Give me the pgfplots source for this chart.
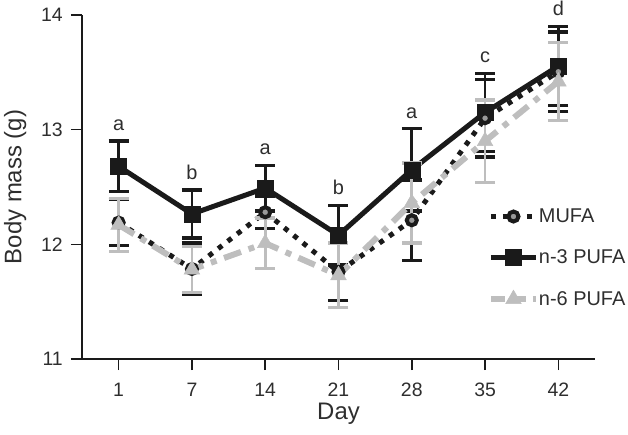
\documentclass[border=0pt]{standalone}
\usepackage{fontspec}
\setmainfont{Liberation Sans}
\usepackage{pgfplots}
\usepackage{pgfplotstable}
\pgfplotsset{compat=1.18}
\definecolor{dk}{HTML}{1A1A1A}
\definecolor{lg}{HTML}{BEBEBE}
\definecolor{txt}{HTML}{2E2E2E}

\pgfplotstableread{
x y e
0 12.19 0.20
1 11.785 0.225
2 12.28 0.14
3 11.76 0.25
4 12.21 0.35
5 13.10 0.34
6 13.505 0.345
}\mufa
\pgfplotstableread{
x y e
0 12.68 0.22
1 12.265 0.21
2 12.49 0.20
3 12.08 0.26
4 12.65 0.36
5 13.15 0.34
6 13.555 0.345
}\nthree
\pgfplotstableread{
x y e
0 12.17 0.23
1 11.78 0.20
2 12.01 0.22
3 11.73 0.28
4 12.36 0.35
5 12.90 0.36
6 13.42 0.34
}\nsix

\begin{document}
\begin{tikzpicture}
\begin{axis}[
  scale only axis, width=513bp, height=344bp,
  xmin=-0.5, xmax=6.5, ymin=11, ymax=14,
  axis lines*=left,
  axis line style={line width=2bp, color=dk},
  clip=false,
  xtick={0,1,2,3,4,5,6},
  xticklabels={1,7,14,21,28,35,42},
  ytick={11,12,13,14},
  tick align=outside,
  major tick length=11bp,
  tick style={line width=1.6bp, color=dk},
  /pgf/number format/assume math mode=true,
  xticklabel style={font=\fontsize{19.5}{19.5}\selectfont, text=txt, inner sep=0pt, anchor=north, yshift=-13bp},
  yticklabel style={font=\fontsize{19.5}{19.5}\selectfont, text=txt, inner sep=0pt, anchor=east, xshift=-8bp},
  xlabel={Day},
  xlabel style={at={(axis description cs:0.5,-0.128)}, anchor=north, inner sep=0pt, font=\fontsize{24}{24}\selectfont, text=txt},
  ylabel={Body mass (g)},
  ylabel style={at={(axis description cs:-0.108,0.5)}, anchor=south, rotate=0, inner sep=0pt, font=\fontsize{24}{24}\selectfont, text=txt},
  legend image code/.code={\draw[mark repeat=2,mark phase=2,#1] plot coordinates {(0bp,0bp) (22.5bp,0bp) (45bp,0bp)};},
  legend style={at={(axis description cs:0.791,0.294)}, anchor=west, draw=none, fill=none,
    font=\fontsize{20}{20}\selectfont, text=txt, row sep=25bp, inner sep=0pt,
    nodes={inner sep=0pt}},
  legend cell align=left,
  /tikz/every even column/.append style={column sep=10bp},
]
\addlegendimage{dk, line width=5bp, dash pattern=on 5bp off 7bp, mark=*, mark size=5bp, mark options={solid, line width=4bp, fill=black!40, draw=dk}}
\addlegendentry{MUFA}
\addlegendimage{dk, line width=5bp, mark=square*, mark size=8bp, mark options={solid, line width=0.5bp}}
\addlegendentry{n-3 PUFA}
\addlegendimage{lg, line width=6bp, dash pattern=on 14bp off 7bp, mark=triangle*, mark size=9bp, mark options={solid, line width=0.5bp, fill=lg, draw=lg}}
\addlegendentry{n-6 PUFA}

\addplot[forget plot, dk, line width=5bp, mark=square*, mark size=8bp, mark options={solid, line width=0.5bp},
  error bars/.cd, y dir=both, y explicit,
  error bar style={line width=2.6bp, solid, dk},
  error mark options={rotate=90, mark size=10bp, line width=3.4bp, solid, dk}]
  table[x=x, y=y, y error=e] {\nthree};
\addplot[forget plot, dk, line width=5bp, dash pattern=on 5bp off 7bp, mark=*, mark size=5bp, mark options={solid, line width=4bp, fill=black!40, draw=dk},
  error bars/.cd, y dir=both, y explicit,
  error bar style={line width=2.6bp, solid, dk},
  error mark options={rotate=90, mark size=10bp, line width=3.4bp, solid, dk}]
  table[x=x, y=y, y error=e] {\mufa};
\addplot[forget plot, lg, line width=6bp, dash pattern=on 18bp off 8bp on 6bp off 8bp, mark=triangle*, mark size=9bp, mark options={solid, line width=0.5bp, fill=lg, draw=lg},
  error bars/.cd, y dir=both, y explicit,
  error bar style={line width=2.6bp, solid, lg},
  error mark options={rotate=90, mark size=10bp, line width=3.4bp, solid, lg}]
  table[x=x, y=y, y error=e] {\nsix};

\tikzset{lett/.style={anchor=base, inner sep=0pt, yshift=10.5bp, font=\fontsize{20}{20}\selectfont, text=txt}}
\node[lett] at (axis cs:0,12.90) {a};
\node[lett] at (axis cs:1,12.475) {b};
\node[lett] at (axis cs:2,12.69) {a};
\node[lett] at (axis cs:3,12.34) {b};
\node[lett] at (axis cs:4,13.01) {a};
\node[lett] at (axis cs:5,13.49) {c};
\node[lett] at (axis cs:6,13.90) {d};

\coordinate (LL) at (rel axis cs:0,0);
\end{axis}
\pgfresetboundingbox
\path (LL) ++(-82bp,-76bp) rectangle ++(628bp,435bp);
\end{tikzpicture}
\end{document}
